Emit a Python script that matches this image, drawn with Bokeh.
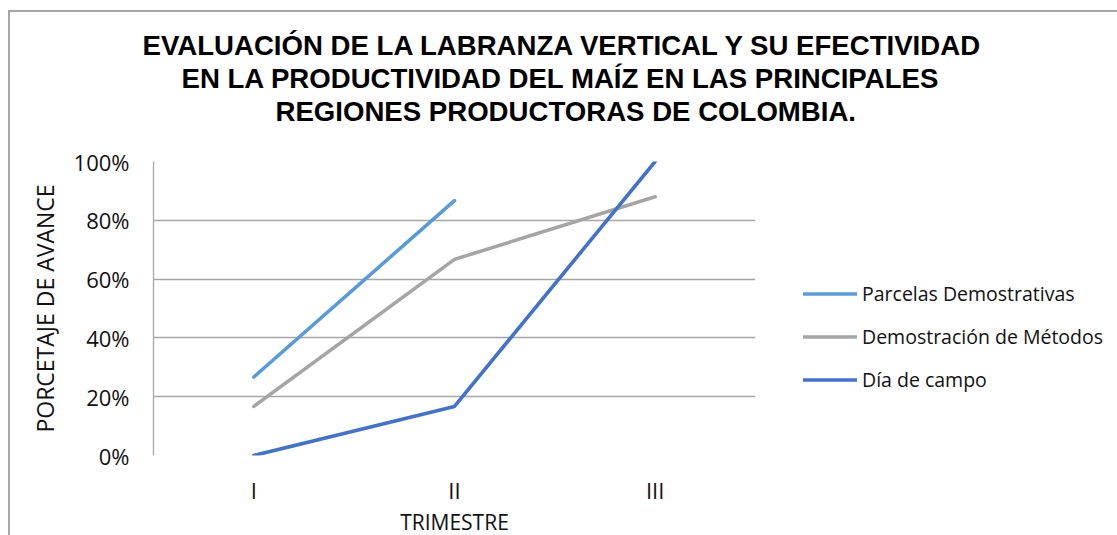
from bokeh.plotting import figure
from bokeh.models import (FactorRange, Range1d, NumeralTickFormatter, Legend, LegendItem,
                          Title, FixedTicker)
from bokeh.embed import file_html
from bokeh.resources import INLINE

trimestres = ["I", "II", "III"]
parcelas = [0.267, 0.867, None]
metodos = [0.167, 0.667, 0.88]
dia_campo = [0.0, 0.167, 1.0]
series_names = ["Parcelas Demostrativas", "Demostración de Métodos", "Día de campo"]
colors = ["#5B9BD5", "#A5A5A5", "#4472C4"]
title_lines = ["EVALUACIÓN DE LA LABRANZA VERTICAL Y SU EFECTIVIDAD",
               "EN LA  PRODUCTIVIDAD DEL MAÍZ EN LAS PRINCIPALES",
               "REGIONES PRODUCTORAS DE COLOMBIA."]
y_ticks = [0, 0.2, 0.4, 0.6, 0.8, 1.0]

FW, FH = 602, 294
p = figure(frame_width=FW, frame_height=FH, output_backend="svg", toolbar_location=None,
           x_range=FactorRange(*trimestres, range_padding=0),
           y_range=Range1d(0, 1),
           min_border_left=143, min_border_right=0, min_border_top=149, min_border_bottom=76)
p.outline_line_color = None
p.styles = {"margin-left": "8px", "margin-top": "10px",
            "border-left": "2px solid #a6a6a6", "border-top": "2px solid #a6a6a6"}

# spacer between the title block and the plot frame
p.add_layout(Title(text=" ", text_font_size="1px", standoff=32), "above")
# title: three lines, each centred around the same x (placed with left offsets)
title_offsets = [-11, 28, 122]
for line, off in reversed(list(zip(title_lines, title_offsets))):
    p.add_layout(Title(text=line, align="left", offset=off, standoff=0,
                       text_font="Liberation Sans", text_font_size="27.6px",
                       text_font_style="bold", text_color="#000000"), "above")

FONT = "Open Sans"
# y axis
p.yaxis.ticker = FixedTicker(ticks=y_ticks)
p.yaxis.formatter = NumeralTickFormatter(format="0%")
p.yaxis.axis_line_color = "#a6a6a6"
p.yaxis.axis_line_width = 1.3
p.yaxis.major_tick_line_color = None
p.yaxis.minor_tick_line_color = None
p.yaxis.major_label_text_font = FONT
p.yaxis.major_label_text_font_size = "22px"
p.yaxis.major_label_text_color = "#111111"
p.yaxis.major_label_standoff = 18
p.yaxis.axis_label = "PORCETAJE DE AVANCE"
p.yaxis.axis_label_text_font = FONT
p.yaxis.axis_label_text_font_size = "23px"
p.yaxis.axis_label_text_font_style = "normal"
p.yaxis.axis_label_text_color = "#111111"
p.yaxis.axis_label_standoff = 10

# x axis
p.xaxis.axis_line_color = None
p.xaxis.major_tick_line_color = None
p.xaxis.minor_tick_line_color = None
p.xaxis.major_label_text_font = FONT
p.xaxis.major_label_text_font_size = "22px"
p.xaxis.major_label_text_color = "#111111"
p.xaxis.major_label_standoff = 13
p.xaxis.axis_label = "TRIMESTRE"
p.xaxis.axis_label_text_font = FONT
p.xaxis.axis_label_text_font_size = "21px"
p.xaxis.axis_label_text_font_style = "normal"
p.xaxis.axis_label_text_color = "#111111"
p.xaxis.axis_label_standoff = 0

p.xgrid.grid_line_color = None
p.ygrid.grid_line_color = "#a6a6a6"
p.ygrid.grid_line_width = 1.3

items = []
for name, vals, c in zip(series_names, [parcelas, metodos, dia_campo], colors):
    xs = [x for x, v in zip(trimestres, vals) if v is not None]
    ys = [v for v in vals if v is not None]
    r = p.line(xs, ys, line_color=c, line_width=3.6, line_cap="round", line_join="round")
    items.append(LegendItem(label=name, renderers=[r]))

legend = Legend(items=items, location=(48, 62), margin=0, padding=0,
                glyph_width=54, glyph_height=27, label_height=27, label_standoff=5, spacing=16,
                label_text_font=FONT, label_text_font_size="19.5px", label_text_color="#111111",
                border_line_color=None, background_fill_alpha=0)
p.add_layout(legend, "right")

open("out.html", "w").write(file_html(p, INLINE))
